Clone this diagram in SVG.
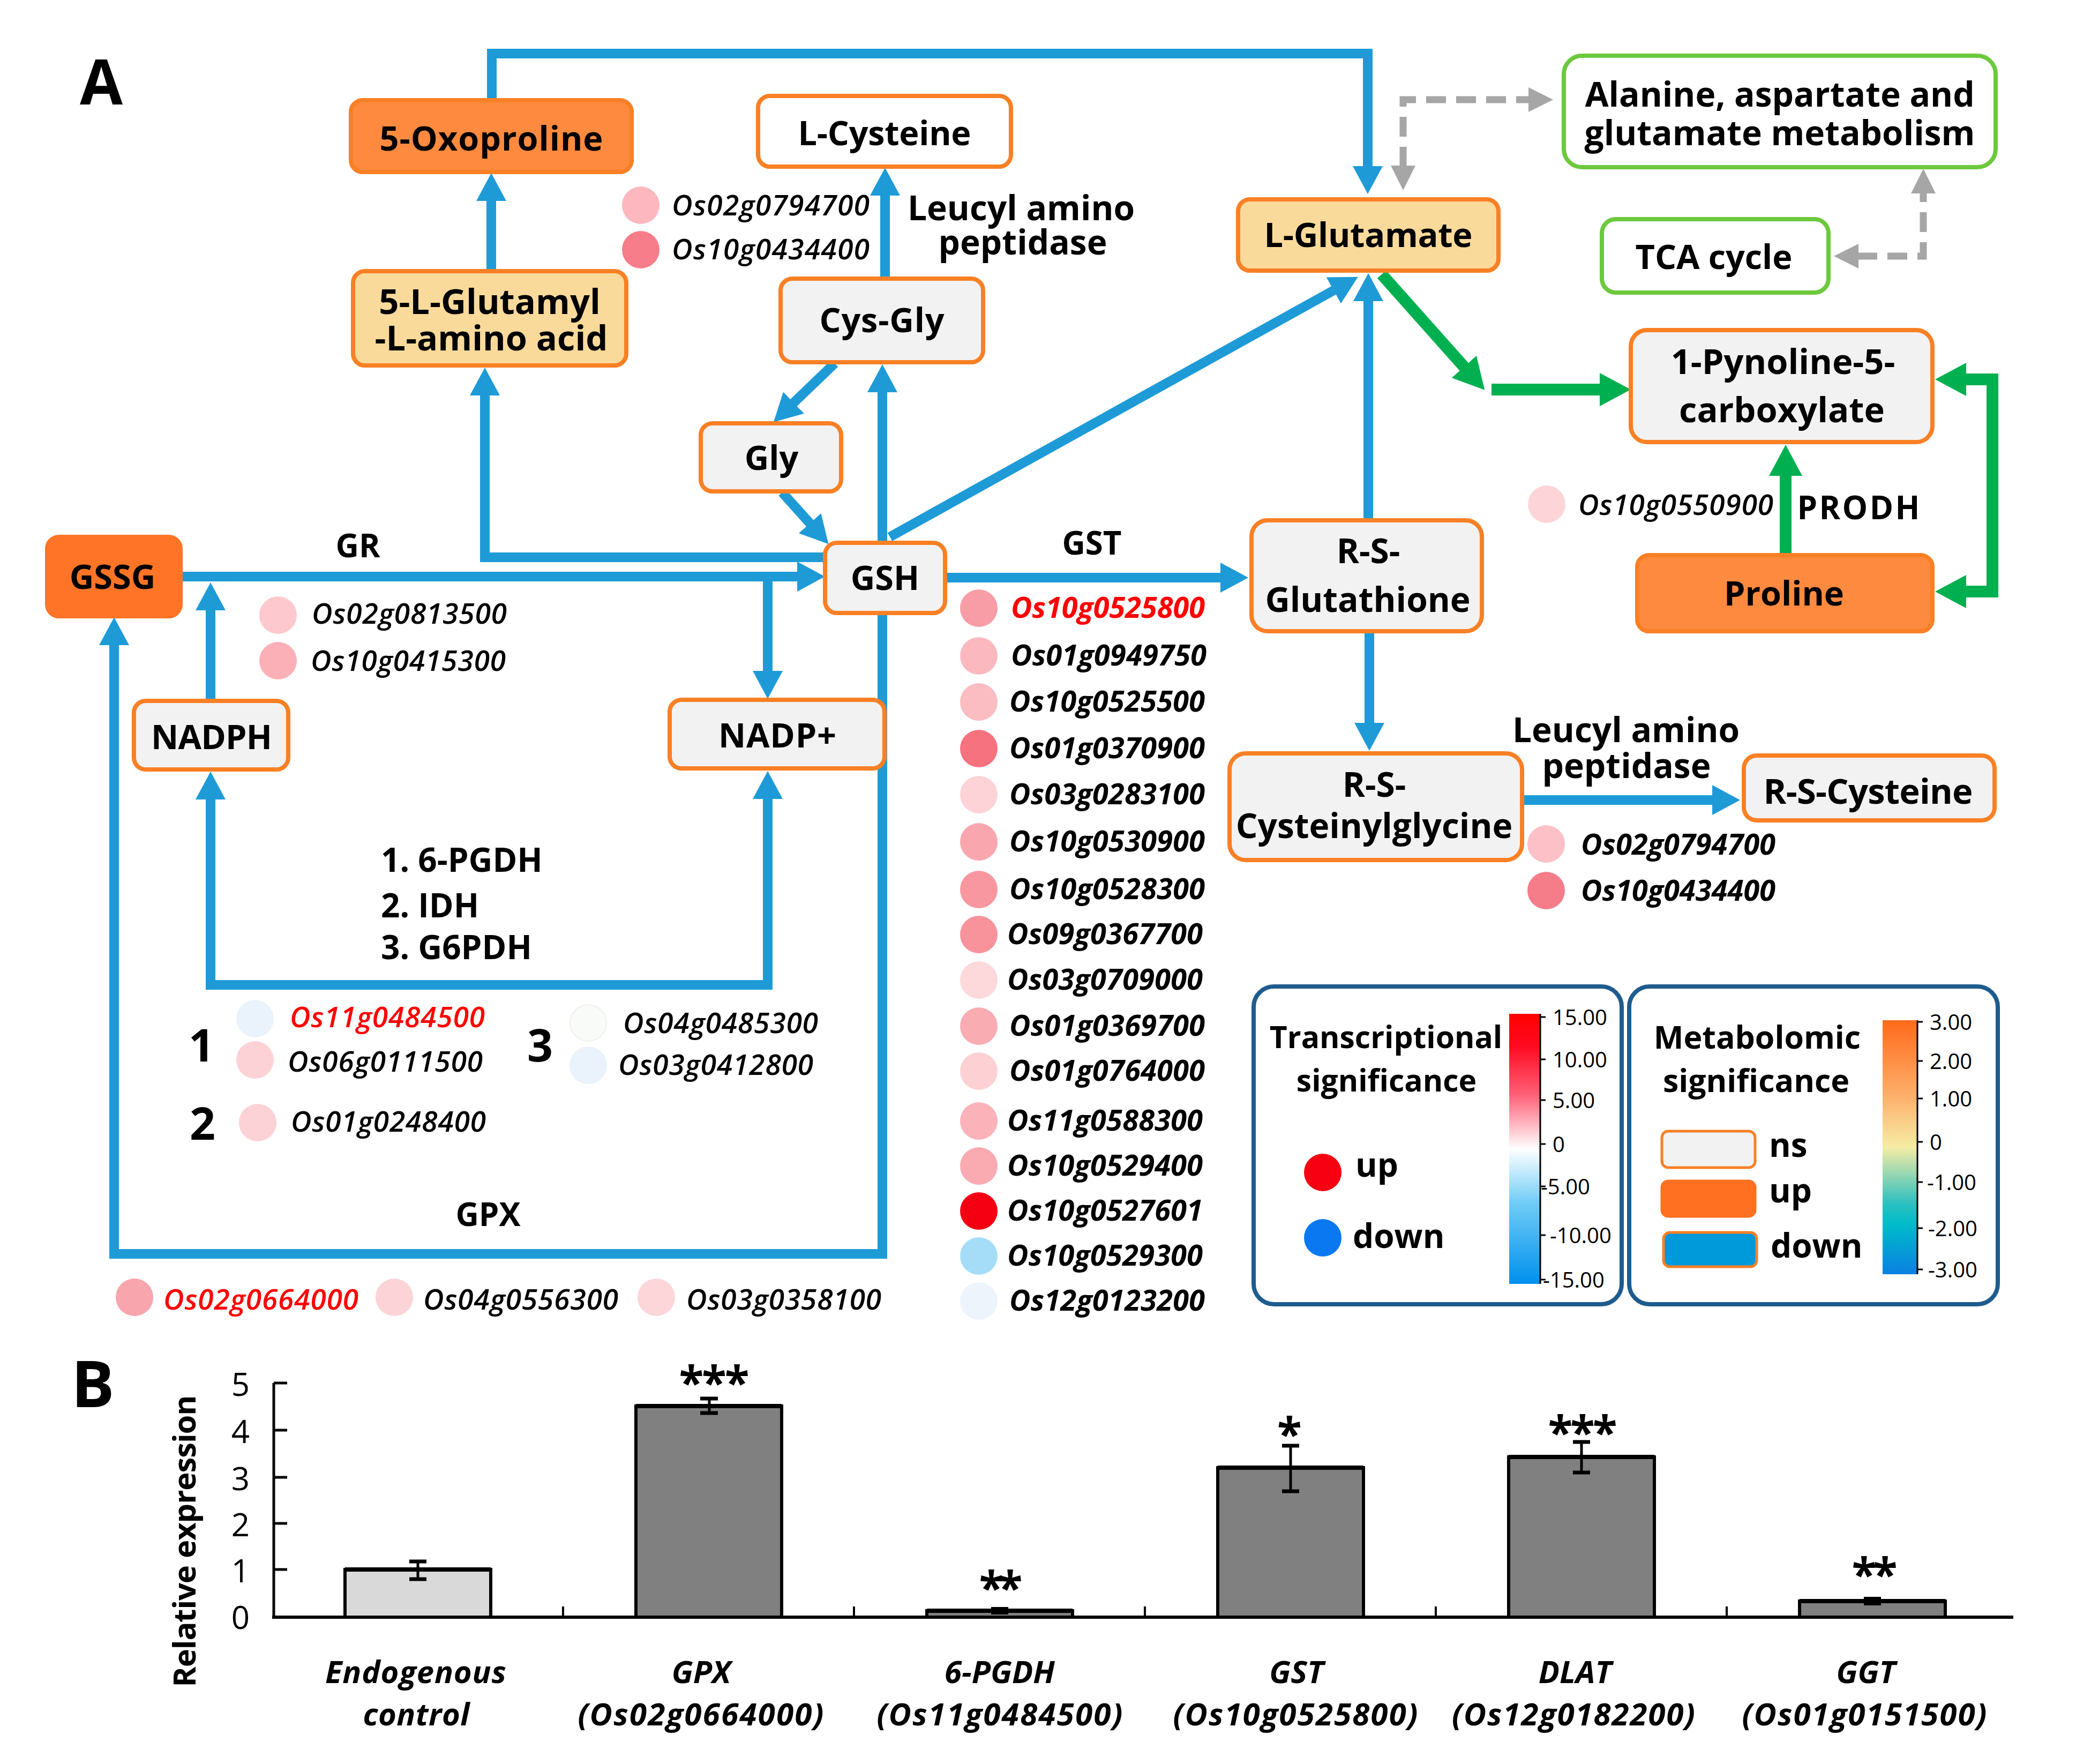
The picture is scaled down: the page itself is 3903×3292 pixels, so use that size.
<svg xmlns="http://www.w3.org/2000/svg" width="3903" height="3292" viewBox="0 0 3903 3292">
<defs>
<style>
text{font-family:"Open Sans","Liberation Sans",Arial,sans-serif;fill:#000}
.nd{stroke:#F98025;stroke-width:8}
.gb{fill:#fff;stroke:#6CC93D;stroke-width:8}
.g{fill:#F2F2F2}.o{fill:#FD8A3E}.lo{fill:#F9DA9B}.w{fill:#fff}
.lbl{font-weight:bold;font-size:63px;text-anchor:middle}
.el{font-weight:bold;font-size:60px;text-anchor:middle}
.gn{font-style:italic;font-weight:600;font-size:53px}
.gs{font-style:italic;font-weight:bold;font-size:54px}
.red{fill:#FF0000}
.bl{fill:none;stroke:#1E9BD7;stroke-width:18;stroke-linejoin:miter}
.gr{fill:none;stroke:#00B050;stroke-width:22;stroke-linejoin:miter}
.ds{fill:none;stroke:#A6A6A6;stroke-width:13;stroke-dasharray:37 19}
.leg{fill:#fff;stroke:#1F5C8E;stroke-width:8}
.tk{font-size:40px}
.lt{font-weight:bold;font-size:57px;text-anchor:middle}
.ax{stroke:#000;fill:none}
.yl{font-size:60px;text-anchor:end}
.xl{font-weight:bold;font-style:italic;font-size:58px;text-anchor:middle}
.ast{font-weight:bold;font-size:84px;text-anchor:middle}
.bar{stroke:#000;stroke-width:6}
</style>
<marker id="ab" markerUnits="userSpaceOnUse" markerWidth="52" markerHeight="56" viewBox="0 0 52 56" refX="2" refY="28" orient="auto-start-reverse"><path d="M0,0 L52,28 L0,56 z" fill="#1E9BD7"/></marker>
<marker id="ag" markerUnits="userSpaceOnUse" markerWidth="58" markerHeight="62" viewBox="0 0 58 62" refX="2" refY="31" orient="auto-start-reverse"><path d="M0,0 L58,31 L0,62 z" fill="#00B050"/></marker>
<marker id="ay" markerUnits="userSpaceOnUse" markerWidth="46" markerHeight="46" viewBox="0 0 46 46" refX="2" refY="23" orient="auto-start-reverse"><path d="M0,0 L46,23 L0,46 z" fill="#A6A6A6"/></marker>
<linearGradient id="gT" x1="0" y1="0" x2="0" y2="1">
<stop offset="0" stop-color="#FF0000"/><stop offset="0.12" stop-color="#FF0A20"/><stop offset="0.3" stop-color="#FF6078"/><stop offset="0.5" stop-color="#FFFFFF"/><stop offset="0.7" stop-color="#70CCF6"/><stop offset="1" stop-color="#0090EE"/>
</linearGradient>
<linearGradient id="gM" x1="0" y1="0" x2="0" y2="1">
<stop offset="0" stop-color="#FF6A1A"/><stop offset="0.3" stop-color="#FDB06C"/><stop offset="0.5" stop-color="#F6ECA4"/><stop offset="0.72" stop-color="#2EC0C0"/><stop offset="0.8" stop-color="#00BCC8"/><stop offset="1" stop-color="#0A80E2"/>
</linearGradient>
</defs>
<rect x="0" y="0" width="3903" height="3292" fill="#fff"/>

<text x="149" y="195" style="font-weight:bold;font-size:116px">A</text>

<g id="connectors">
<path class="bl" d="M918,187 V100 H2553 V312" marker-end="url(#ab)"/>
<path class="bl" d="M917,506 V373" marker-end="url(#ab)"/>
<path class="bl" d="M1542,1040 H905 V736" marker-end="url(#ab)"/>
<path class="bl" d="M1652,520 V363" marker-end="url(#ab)"/>
<path class="bl" d="M1558,678 L1480,753" marker-end="url(#ab)"/>
<path class="bl" d="M1460,919 L1513,978" marker-end="url(#ab)"/>
<path class="bl" d="M1647,1013 V730" marker-end="url(#ab)"/>
<path class="bl" d="M1661,1002 L2491,541" marker-end="url(#ab)"/>
<path class="bl" d="M337,1076 H1490" marker-end="url(#ab)"/>
<path class="bl" d="M1433,1076 V1254" marker-end="url(#ab)"/>
<path class="bl" d="M393,1308 V1137" marker-end="url(#ab)"/>
<path class="bl" d="M1647,1144 V2340 H213 V1202" marker-end="url(#ab)"/>
<path class="bl" d="M393,1490 V1838 H1433 V1489" marker-start="url(#ab)" marker-end="url(#ab)"/>
<path class="bl" d="M1764,1078 H2280" marker-end="url(#ab)"/>
<path class="bl" d="M2554,971 V560" marker-end="url(#ab)"/>
<path class="bl" d="M2556,1178 V1351" marker-end="url(#ab)"/>
<path class="bl" d="M2841,1493 H3198" marker-end="url(#ab)"/>
<path class="gr" d="M2579,512 L2734,686" marker-end="url(#ag)"/>
<path class="gr" d="M2784,727 H2988" marker-end="url(#ag)"/>
<path class="gr" d="M3333,1036 V886" marker-end="url(#ag)"/>
<path class="gr" d="M3668,708 H3719 V1104 H3668" marker-start="url(#ag)" marker-end="url(#ag)"/>
<path class="ds" d="M2619,311 V186 H2855" marker-start="url(#ay)" marker-end="url(#ay)"/>
<path class="ds" d="M3467,478 H3590 V359" marker-start="url(#ay)" marker-end="url(#ay)"/>
</g>

<g id="n-oxoproline"><rect class="nd o" x="655" y="187" width="524" height="134" rx="22"/><text class="lbl" x="917" y="281" textLength="417">5-Oxoproline</text></g>
<g id="n-lcysteine"><rect class="nd w" x="1415" y="179" width="472" height="132" rx="22"/><text class="lbl" x="1651" y="271" textLength="323">L-Cysteine</text></g>
<g id="n-glutamyl"><rect class="nd lo" x="659" y="506" width="510" height="176" rx="22"/><text class="lbl" style="font-size:65px"><tspan x="914" y="586">5-L-Glutamyl</tspan><tspan x="917" y="654">-L-amino acid</tspan></text></g>
<g id="n-cysgly"><rect class="nd g" x="1457" y="520" width="378" height="156" rx="22"/><text class="lbl" x="1646" y="620" textLength="233">Cys-Gly</text></g>
<g id="n-gly"><rect class="nd g" x="1308" y="790" width="262" height="127" rx="22"/><text class="lbl" x="1440" y="877">Gly</text></g>
<g id="n-gssg"><rect class="nd" style="fill:#FF7426;stroke:#FF7426" x="88" y="1002" width="249" height="148" rx="22"/><text class="lbl" x="210" y="1099">GSSG</text></g>
<g id="n-gsh"><rect class="nd g" x="1540" y="1013" width="224" height="131" rx="22"/><text class="lbl" x="1652" y="1101">GSH</text></g>
<g id="n-nadph"><rect class="nd g" x="250" y="1308" width="288" height="128" rx="22"/><text class="lbl" x="395" y="1398" textLength="226">NADPH</text></g>
<g id="n-nadp"><rect class="nd g" x="1250" y="1306" width="401" height="128" rx="22"/><text class="lbl" x="1451" y="1395" textLength="220">NADP+</text></g>
<g id="n-lglutamate"><rect class="nd lo" x="2311" y="372" width="486" height="133" rx="22"/><text class="lbl" x="2554" y="461" textLength="389">L-Glutamate</text></g>
<g id="n-alanine"><rect class="gb" x="2919" y="104" width="806" height="208" rx="34"/><text class="lbl" style="font-size:64px"><tspan x="3322" y="199">Alanine, aspartate and</tspan><tspan x="3322" y="271">glutamate metabolism</tspan></text></g>
<g id="n-tca"><rect class="gb" x="2990" y="409" width="423" height="137" rx="26"/><text class="lbl" x="3199" y="502" textLength="293">TCA cycle</text></g>
<g id="n-p5c"><rect class="nd g" x="3044" y="616" width="563" height="209" rx="30"/><text class="lbl" style="font-size:65px"><tspan x="3328" y="698">1-Pynoline-5-</tspan><tspan x="3326" y="788">carboxylate</tspan></text></g>
<g id="n-proline"><rect class="nd o" x="3056" y="1036" width="551" height="142" rx="22"/><text class="lbl" x="3330" y="1130" textLength="224">Proline</text></g>
<g id="n-rsglut"><rect class="nd g" x="2336" y="971" width="430" height="207" rx="30"/><text class="lbl" style="font-size:64px"><tspan x="2554" y="1051">R-S-</tspan><tspan x="2553" y="1142">Glutathione</tspan></text></g>
<g id="n-rscysgly"><rect class="nd g" x="2295" y="1406" width="546" height="199" rx="30"/><text class="lbl" style="font-size:64px"><tspan x="2565" y="1487">R-S-</tspan><tspan x="2565" y="1564">Cysteinylglycine</tspan></text></g>
<g id="n-rscys"><rect class="nd g" x="3255" y="1410" width="468" height="121" rx="24"/><text class="lbl" x="3487" y="1500" style="font-size:65px" textLength="391">R-S-Cysteine</text></g>

<g id="edge-labels">
<text class="el" x="668" y="1040">GR</text>
<text class="el" x="2038" y="1035">GST</text>
<text class="el" x="911" y="2288">GPX</text>
<text class="lbl" style="font-size:64px"><tspan x="1906" y="411">Leucyl amino</tspan><tspan x="1909" y="475">peptidase</tspan></text>
<text class="lbl" style="font-size:64px"><tspan x="3035" y="1385">Leucyl amino</tspan><tspan x="3036" y="1452">peptidase</tspan></text>
<text class="el" x="3469" y="969" textLength="229">PRODH</text>
<text style="font-weight:bold;font-size:62px"><tspan x="711" y="1627">1. 6-PGDH</tspan><tspan x="711" y="1712">2. IDH</tspan><tspan x="711" y="1790">3. G6PDH</tspan></text>
<text x="376" y="1981" style="font-weight:bold;font-size:84px;text-anchor:middle">1</text>
<text x="378" y="2127" style="font-weight:bold;font-size:84px;text-anchor:middle">2</text>
<text x="1008" y="1981" style="font-weight:bold;font-size:84px;text-anchor:middle">3</text>
</g>

<g id="genes">
<circle cx="519" cy="1148" r="35" fill="#FDC9CE"/><text class="gn" x="582" y="1164" textLength="364">Os02g0813500</text>
<circle cx="519" cy="1233" r="35" fill="#FBB0B8"/><text class="gn" x="580" y="1252" textLength="364">Os10g0415300</text>
<circle cx="1196" cy="383" r="35" fill="#FDB8BF"/><text class="gn" x="1254" y="402" textLength="369">Os02g0794700</text>
<circle cx="1196" cy="466" r="35" fill="#F77D8A"/><text class="gn" x="1254" y="484" textLength="369">Os10g0434400</text>
<circle cx="476" cy="1901" r="35" fill="#EAF3FB"/><text class="gn red" x="541" y="1917" textLength="364">Os11g0484500</text>
<circle cx="476" cy="1978" r="35" fill="#FDD2D6"/><text class="gn" x="537" y="2000" textLength="364">Os06g0111500</text>
<circle cx="481" cy="2095" r="35" fill="#FDD2D6"/><text class="gn" x="543" y="2112" textLength="364">Os01g0248400</text>
<circle cx="1098" cy="1909" r="34" fill="#F9FBF9" stroke="#EDF1ED" stroke-width="2"/><text class="gn" x="1163" y="1928" textLength="364">Os04g0485300</text>
<circle cx="1098" cy="1988" r="35" fill="#EAF2FC"/><text class="gn" x="1154" y="2006" textLength="364">Os03g0412800</text>
<circle cx="251" cy="2421" r="35" fill="#F8A5AD"/><text class="gn red" x="305" y="2444" textLength="364">Os02g0664000</text>
<circle cx="736" cy="2421" r="35" fill="#FCD3D6"/><text class="gn" x="790" y="2444" textLength="364">Os04g0556300</text>
<circle cx="1225" cy="2421" r="35" fill="#FDD6D9"/><text class="gn" x="1281" y="2444" textLength="364">Os03g0358100</text>
<circle cx="2887" cy="941" r="35" fill="#FDD5D8"/><text class="gn" x="2946" y="961" textLength="364">Os10g0550900</text>
<circle cx="2886" cy="1575" r="35" fill="#FDC0C6"/><text class="gs" x="2951" y="1595" textLength="363">Os02g0794700</text>
<circle cx="2886" cy="1662" r="35" fill="#F47D89"/><text class="gs" x="2951" y="1681" textLength="363">Os10g0434400</text>
<g id="gst-genes">
<circle cx="1827" cy="1135" r="35" fill="#F89DA6"/><text class="gs red" x="1887" y="1153" textLength="362">Os10g0525800</text>
<circle cx="1827" cy="1224" r="35" fill="#FBB9BF"/><text class="gs" x="1887" y="1242" textLength="365">Os01g0949750</text>
<circle cx="1827" cy="1310" r="35" fill="#FBBCC2"/><text class="gs" x="1884" y="1328" textLength="365">Os10g0525500</text>
<circle cx="1827" cy="1397" r="35" fill="#F6727F"/><text class="gs" x="1884" y="1415" textLength="365">Os01g0370900</text>
<circle cx="1827" cy="1483" r="35" fill="#FDD3D7"/><text class="gs" x="1884" y="1501" textLength="365">Os03g0283100</text>
<circle cx="1827" cy="1571" r="35" fill="#F9A6AE"/><text class="gs" x="1884" y="1589" textLength="365">Os10g0530900</text>
<circle cx="1827" cy="1660" r="35" fill="#F8979F"/><text class="gs" x="1884" y="1678" textLength="365">Os10g0528300</text>
<circle cx="1827" cy="1744" r="35" fill="#F8939C"/><text class="gs" x="1880" y="1762" textLength="365">Os09g0367700</text>
<circle cx="1827" cy="1829" r="35" fill="#FDD9DC"/><text class="gs" x="1880" y="1847" textLength="365">Os03g0709000</text>
<circle cx="1827" cy="1915" r="35" fill="#FAACB3"/><text class="gs" x="1884" y="1933" textLength="365">Os01g0369700</text>
<circle cx="1827" cy="1999" r="35" fill="#FDD0D4"/><text class="gs" x="1884" y="2017" textLength="365">Os01g0764000</text>
<circle cx="1827" cy="2092" r="35" fill="#FBB3B9"/><text class="gs" x="1880" y="2110" textLength="365">Os11g0588300</text>
<circle cx="1827" cy="2176" r="35" fill="#FAAAB1"/><text class="gs" x="1880" y="2194" textLength="365">Os10g0529400</text>
<circle cx="1827" cy="2260" r="35" fill="#F50012"/><text class="gs" x="1880" y="2278" textLength="365">Os10g0527601</text>
<circle cx="1827" cy="2344" r="35" fill="#A5DDF8"/><text class="gs" x="1880" y="2362" textLength="365">Os10g0529300</text>
<circle cx="1827" cy="2428" r="35" fill="#EDF4FB"/><text class="gs" x="1884" y="2446" textLength="365">Os12g0123200</text>
</g>
</g>

<g id="legend-transcriptional">
<rect class="leg" x="2340" y="1841" width="687" height="593" rx="38"/>
<text class="lt"><tspan x="2587" y="1956">Transcriptional</tspan><tspan x="2588" y="2037">significance</tspan></text>
<rect x="2817" y="1892" width="57" height="504" fill="url(#gT)"/>
<path class="ax" stroke-width="3" d="M2875,1892 V2396 M2875,1898 h10 M2875,1977 h10 M2875,2053 h10 M2875,2135 h10 M2875,2214 h10 M2875,2305 h10 M2875,2388 h10"/>
<text class="tk" x="2898" y="1913">15.00</text>
<text class="tk" x="2898" y="1992">10.00</text>
<text class="tk" x="2898" y="2068">5.00</text>
<text class="tk" x="2898" y="2150">0</text>
<text class="tk" x="2876" y="2229">-5.00</text>
<text class="tk" x="2893" y="2320">-10.00</text>
<text class="tk" x="2880" y="2403">-15.00</text>
<circle cx="2469" cy="2188" r="35" fill="#F70012"/>
<text x="2530" y="2196" style="font-weight:bold;font-size:62px">up</text>
<circle cx="2469" cy="2310" r="35" fill="#0A78F0"/>
<text x="2525" y="2329" style="font-weight:bold;font-size:62px">down</text>
</g>

<g id="legend-metabolomic">
<rect class="leg" x="3041" y="1841" width="688" height="593" rx="38"/>
<text class="lt" style="font-size:59px"><tspan x="3280" y="1957">Metabolomic</tspan><tspan x="3278" y="2038">significance</tspan></text>
<rect x="3514" y="1904" width="64" height="474" fill="url(#gM)"/>
<path class="ax" stroke-width="3" d="M3579,1904 V2378 M3579,1907 h10 M3579,1980 h10 M3579,2050 h10 M3579,2131 h10 M3579,2206 h10 M3579,2292 h10 M3579,2369 h10"/>
<text class="tk" x="3602" y="1922">3.00</text>
<text class="tk" x="3602" y="1995">2.00</text>
<text class="tk" x="3602" y="2065">1.00</text>
<text class="tk" x="3602" y="2146">0</text>
<text class="tk" x="3597" y="2221">-1.00</text>
<text class="tk" x="3599" y="2307">-2.00</text>
<text class="tk" x="3599" y="2384">-3.00</text>
<rect x="3102" y="2111" width="174" height="68" rx="12" fill="#F2F2F2" stroke="#F98025" stroke-width="5"/>
<rect x="3102" y="2204" width="174" height="66" rx="12" fill="#FF7020" stroke="#FF7020" stroke-width="5"/>
<rect x="3105" y="2300" width="174" height="64" rx="12" fill="#0099DA" stroke="#F98025" stroke-width="5"/>
<text x="3302" y="2159" style="font-weight:bold;font-size:62px">ns</text>
<text x="3302" y="2244" style="font-weight:bold;font-size:62px">up</text>
<text x="3305" y="2347" style="font-weight:bold;font-size:62px">down</text>
</g>

<g id="chart">
<text x="133" y="2626" style="font-weight:bold;font-size:120px">B</text>
<text x="365" y="2876" transform="rotate(-90 365 2876)" style="font-weight:bold;font-size:58px;text-anchor:middle" textLength="545">Relative expression</text>
<path class="ax" stroke-width="5" d="M511,2581 V3018 M511,2581 h25 M511,2669 h25 M511,2757 h25 M511,2843 h25 M511,2929 h25"/>
<text class="yl" x="466" y="2605">5</text>
<text class="yl" x="466" y="2693">4</text>
<text class="yl" x="466" y="2781">3</text>
<text class="yl" x="466" y="2867">2</text>
<text class="yl" x="466" y="2953">1</text>
<text class="yl" x="466" y="3040">0</text>
<rect class="bar" x="644" y="2929" width="272" height="89" fill="#D9D9D9"/>
<rect class="bar" x="1187" y="2624" width="272" height="394" fill="#808080"/>
<rect class="bar" x="1730" y="3006" width="272" height="12" fill="#808080"/>
<rect class="bar" x="2273" y="2739" width="272" height="279" fill="#808080"/>
<rect class="bar" x="2816" y="2719" width="272" height="299" fill="#808080"/>
<rect class="bar" x="3359" y="2988" width="272" height="30" fill="#808080"/>
<path class="ax" stroke-width="8" d="M644,2929 h272 M1187,2624 h272 M1730,3006 h272 M2273,2739 h272 M2816,2719 h272 M3359,2988 h272"/>
<path class="ax" stroke-width="6" d="M508,3018 H3758"/>
<path class="ax" stroke-width="4" d="M1051,2998 V3018 M1594,2998 V3018 M2137,2998 V3018 M2680,2998 V3018 M3223,2998 V3018"/>
<path class="ax" stroke-width="5" d="M780,2914 V2947 M1324,2610 V2637 M2409,2698 V2783 M2952,2691 V2748"/>
<path class="ax" stroke-width="7" d="M764,2914 h32 M764,2947 h32 M1307,2610 h33 M1307,2637 h33 M2393,2698 h32 M2393,2783 h32 M2936,2691 h32 M2936,2748 h32"/>
<rect x="1850" y="2999" width="32" height="14" fill="#000"/>
<rect x="3479" y="2980" width="32" height="16" fill="#000"/>
<text class="ast" x="1333" y="2610" textLength="131">***</text>
<text class="ast" x="1868" y="2993" textLength="81">**</text>
<text class="ast" x="2407" y="2706">*</text>
<text class="ast" x="2954" y="2703" textLength="129">***</text>
<text class="ast" x="3499" y="2968" textLength="85">**</text>
<text class="xl" x="776" y="3141" textLength="338">Endogenous</text>
<text class="xl" x="777" y="3220" textLength="199">control</text>
<text class="xl" x="1309" y="3141">GPX</text>
<text class="xl" x="1308" y="3220" textLength="459">(Os02g0664000)</text>
<text class="xl" x="1866" y="3141">6-PGDH</text>
<text class="xl" x="1866" y="3220" textLength="459">(Os11g0484500)</text>
<text class="xl" x="2420" y="3141">GST</text>
<text class="xl" x="2418" y="3220" textLength="457">(Os10g0525800)</text>
<text class="xl" x="2940" y="3141">DLAT</text>
<text class="xl" x="2937" y="3220" textLength="454">(Os12g0182200)</text>
<text class="xl" x="3483" y="3141">GGT</text>
<text class="xl" x="3480" y="3220" textLength="457">(Os01g0151500)</text>
</g>
</svg>
